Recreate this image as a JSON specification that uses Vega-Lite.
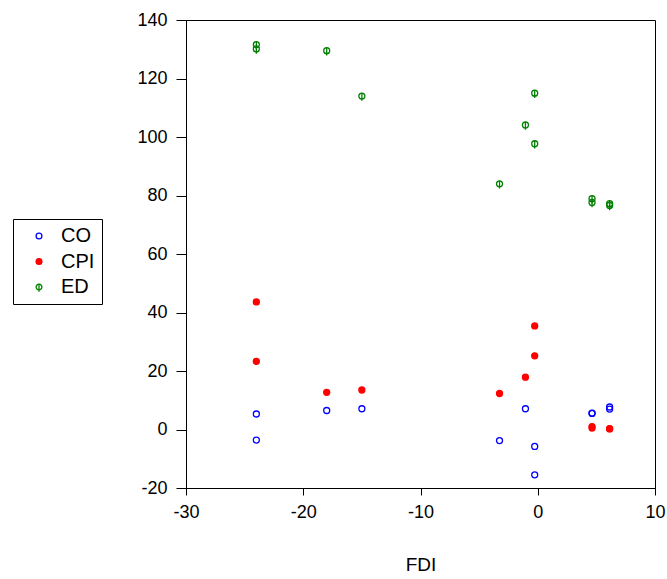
{
  "$schema": "https://vega.github.io/schema/vega-lite/v6.json",
  "autosize": {"type": "none"},
  "padding": {"left": 186, "top": 20, "right": 12, "bottom": 91},
  "width": 469,
  "height": 468,
  "background": "white",
  "config": {
    "font": "Liberation Sans",
    "view": {"stroke": "black", "strokeWidth": 1},
    "axis": {
      "grid": false,
      "domainColor": "black",
      "tickColor": "black",
      "labelColor": "black",
      "labelFont": "Liberation Sans",
      "labelFontSize": 18,
      "titleFont": "Liberation Sans",
      "titleFontSize": 19,
      "titleFontWeight": "normal",
      "titleColor": "black"
    },
    "legend": {
      "orient": "none",
      "legendX": -173,
      "legendY": 199,
      "strokeColor": "black",
      "fillColor": "white",
      "padding": 7,
      "symbolOffset": 9,
      "symbolSize": 34,
      "symbolStrokeWidth": 1.3,
      "labelFont": "Liberation Sans",
      "labelFontSize": 20,
      "labelColor": "black",
      "labelOffset": 12,
      "rowPadding": 5.5
    }
  },
  "data": {
    "values": [
      {"FDI": -24.0, "series": "CO", "value": 5.3},
      {"FDI": -24.0, "series": "CO", "value": -3.6},
      {"FDI": -18.0, "series": "CO", "value": 6.5},
      {"FDI": -15.0, "series": "CO", "value": 7.1},
      {"FDI": -3.26, "series": "CO", "value": -3.8},
      {"FDI": -1.05, "series": "CO", "value": 7.1},
      {"FDI": -0.26, "series": "CO", "value": -5.8},
      {"FDI": -0.26, "series": "CO", "value": -15.5},
      {"FDI": 4.63, "series": "CO", "value": 5.5},
      {"FDI": 4.63, "series": "CO", "value": 5.6},
      {"FDI": 6.13, "series": "CO", "value": 7.7},
      {"FDI": 6.13, "series": "CO", "value": 7.0},
      {"FDI": -24.0, "series": "CPI", "value": 43.6},
      {"FDI": -24.0, "series": "CPI", "value": 23.3},
      {"FDI": -18.0, "series": "CPI", "value": 12.7},
      {"FDI": -15.0, "series": "CPI", "value": 13.5},
      {"FDI": -3.26, "series": "CPI", "value": 12.3},
      {"FDI": -1.05, "series": "CPI", "value": 17.9},
      {"FDI": -0.26, "series": "CPI", "value": 35.4},
      {"FDI": -0.26, "series": "CPI", "value": 25.2},
      {"FDI": 4.63, "series": "CPI", "value": 0.5},
      {"FDI": 4.63, "series": "CPI", "value": 1.0},
      {"FDI": 6.13, "series": "CPI", "value": 0.2},
      {"FDI": 6.13, "series": "CPI", "value": 0.3},
      {"FDI": -24.0, "series": "ED", "value": 131.6},
      {"FDI": -24.0, "series": "ED", "value": 130.1},
      {"FDI": -18.0, "series": "ED", "value": 129.5},
      {"FDI": -15.0, "series": "ED", "value": 114.0},
      {"FDI": -3.26, "series": "ED", "value": 84.0},
      {"FDI": -1.05, "series": "ED", "value": 104.1},
      {"FDI": -0.26, "series": "ED", "value": 115.0},
      {"FDI": -0.26, "series": "ED", "value": 97.7},
      {"FDI": 4.63, "series": "ED", "value": 78.9},
      {"FDI": 4.63, "series": "ED", "value": 77.6},
      {"FDI": 6.13, "series": "ED", "value": 77.2},
      {"FDI": 6.13, "series": "ED", "value": 76.6}
    ]
  },
  "mark": {"type": "point", "size": 36, "strokeWidth": 1.3, "opacity": 1},
  "encoding": {
    "x": {
      "field": "FDI",
      "type": "quantitative",
      "title": "FDI",
      "scale": {"domain": [-30, 10], "nice": false, "zero": false},
      "axis": {"values": [-30, -20, -10, 0, 10], "tickSize": 7, "labelPadding": 8, "titlePadding": 34, "labelFlush": false, "labelExpr": "datum.value + ''"}
    },
    "y": {
      "field": "value",
      "type": "quantitative",
      "title": null,
      "scale": {"domain": [-20, 140], "nice": false, "zero": false},
      "axis": {"values": [-20, 0, 20, 40, 60, 80, 100, 120, 140], "tickSize": 10, "labelPadding": 9, "labelFlush": false, "labelExpr": "datum.value + ''"}
    },
    "stroke": {
      "field": "series",
      "type": "nominal",
      "title": null,
      "scale": {"domain": ["CO", "CPI", "ED"], "range": ["#0000ff", "#ff0000", "#008000"]}
    },
    "fill": {
      "field": "series",
      "type": "nominal",
      "title": null,
      "scale": {"domain": ["CO", "CPI", "ED"], "range": ["transparent", "#ff0000", "transparent"]}
    },
    "shape": {
      "field": "series",
      "type": "nominal",
      "title": null,
      "scale": {"domain": ["CO", "CPI", "ED"], "range": ["circle", "circle", "M-1,0A1,1,0,1,1,1,0A1,1,0,1,1,-1,0ZM0,-1L0,1.6"]}
    }
  }
}
